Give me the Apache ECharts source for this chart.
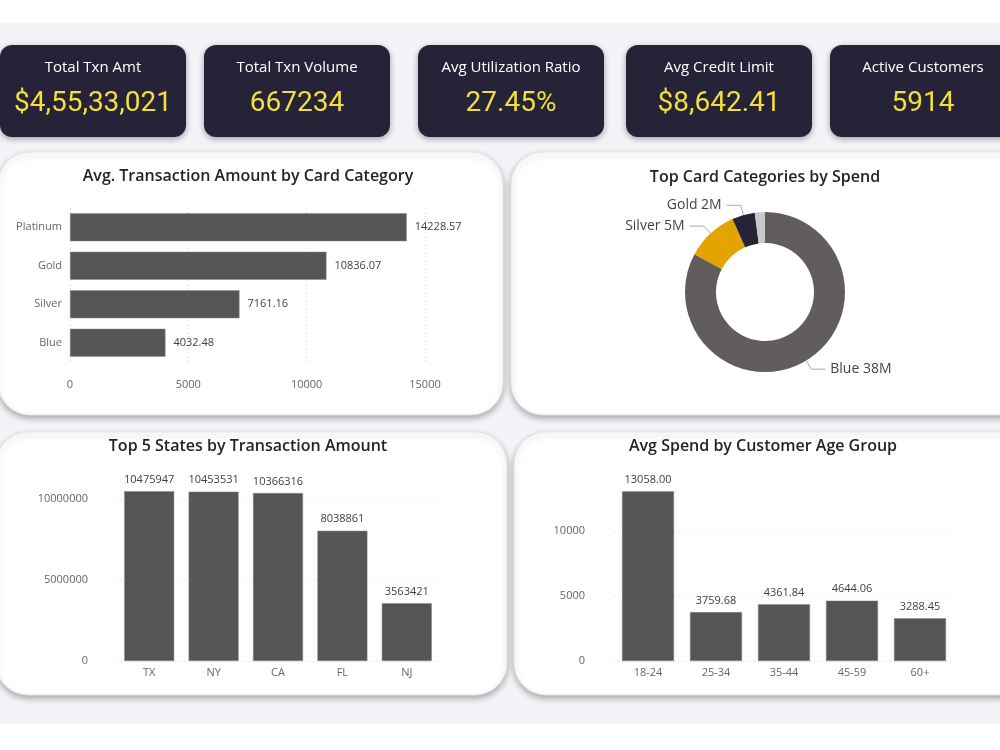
<!DOCTYPE html>
<html>
<head>
<meta charset="UTF-8">
<title>Credit Card Dashboard</title>
<script src="https://cdn.jsdelivr.net/npm/echarts@6/dist/echarts.min.js"></script>
<style>
    *{ padding:0; margin:0; }
    #main{ width:1000px; height:750px; }
</style>
</head>
<body>
<div id="main"></div>
<script>
// KPI cards
var kpiTitles = ['Total Txn Amt', 'Total Txn Volume', 'Avg Utilization Ratio', 'Avg Credit Limit', 'Active Customers'];
var kpiValues = ['$4,55,33,021', '667234', '27.45%', '$8,642.41', '5914'];

// avg transaction amount by card category
var cardCats = ['Platinum', 'Gold', 'Silver', 'Blue'];
var cardAvg = [14228.57, 10836.07, 7161.16, 4032.48];

// spend share by card category (donut)
var spendCats = ['Blue', 'Silver', 'Gold', 'Platinum'];
var spendVals = [37700000, 4800000, 2100000, 930000];
var spendColors = ['#605d5c', '#e3a400', '#262338', '#c8c8c8'];

// top 5 states
var states = ['TX', 'NY', 'CA', 'FL', 'NJ'];
var stateAmt = [10475947, 10453531, 10366316, 8038861, 3563421];

// age groups
var ageGroups = ['18-24', '25-34', '35-44', '45-59', '60+'];
var ageSpend = [13058.00, 3759.68, 4361.84, 4644.06, 3288.45];

var FONT = '"Open Sans", "Noto Sans", sans-serif';
var barColor = '#555555';
var plain = function (v) { return String(v); };
var axisLbl = { color: '#666', fontSize: 11, fontFamily: FONT };
var valLbl = { color: '#404040', fontSize: 11, fontFamily: FONT };
var dotted = { show: true, lineStyle: { color: '#d4d4d4', type: [1, 3], width: 1 } };

function txt(x, y, s, size, color, weight, family, z) {
    return {
        type: 'text', z: z || 5,
        style: {
            x: x, y: y, text: s,
            fontSize: size, fontWeight: weight || 'normal', fontFamily: family || FONT,
            fill: color,
            align: 'center', verticalAlign: 'middle',
            textAlign: 'center', textVerticalAlign: 'middle'
        }
    };
}

var elements = [];
// page background
elements.push({ type: 'rect', z: -3, shape: { x: 0, y: 23, width: 1000, height: 701 }, style: { fill: '#f3f3f8' } });

// kpi cards
var cardX = [0, 204, 418, 626, 830];
for (var i = 0; i < cardX.length; i++) {
    elements.push({
        type: 'rect', z: -2,
        shape: { x: cardX[i], y: 45, width: 186, height: 92, r: 12 },
        style: { fill: '#262338', shadowBlur: 6, shadowOffsetY: 2, shadowColor: 'rgba(0,0,0,0.35)' }
    });
    elements.push(txt(cardX[i] + 93, 68, kpiTitles[i], 15, '#ffffff', 'normal', FONT, 5));
    elements.push(txt(cardX[i] + 93, 104, kpiValues[i], 28, '#f2df3a', 'normal', 'Roboto, sans-serif', 5));
}

// white panels
var panels = [
    [-2, 152, 505, 263],
    [511, 152, 520, 263],
    [-4, 432, 511, 263],
    [514, 432, 520, 263]
];
panels.forEach(function (p) {
    elements.push({
        type: 'rect', z: -2,
        shape: { x: p[0], y: p[1], width: p[2], height: p[3], r: 32 },
        style: { fill: '#ffffff', stroke: '#e6e6e6', lineWidth: 1, shadowBlur: 6, shadowOffsetY: 3, shadowColor: 'rgba(0,0,0,0.3)' }
    });
});

// panel titles
elements.push(txt(248, 176, 'Avg. Transaction Amount by Card Category', 16, '#252423', 600));
elements.push(txt(765, 177, 'Top Card Categories by Spend', 16, '#252423', 600));
elements.push(txt(248, 446, 'Top 5 States by Transaction Amount', 16, '#252423', 600));
elements.push(txt(763, 446, 'Avg Spend by Customer Age Group', 16, '#252423', 600));

var option = {
    animation: false,
    backgroundColor: '#ffffff',
    graphic: { elements: elements },
    grid: [
        { left: 70, top: 208, width: 355, height: 154 },
        { left: 117, top: 466.6, width: 322, height: 194.4 },
        { left: 614, top: 466, width: 340, height: 195 }
    ],
    xAxis: [
        {
            gridIndex: 0, type: 'value', min: 0, max: 15000, interval: 5000, z: 3,
            axisLine: { show: false }, axisTick: { show: false },
            axisLabel: Object.assign({ margin: 17, formatter: plain }, axisLbl),
            splitLine: dotted
        },
        {
            gridIndex: 1, type: 'category', data: states, z: 3,
            axisLine: { show: false }, axisTick: { show: false },
            axisLabel: Object.assign({ margin: 6 }, axisLbl)
        },
        {
            gridIndex: 2, type: 'category', data: ageGroups, z: 3,
            axisLine: { show: false }, axisTick: { show: false },
            axisLabel: Object.assign({ margin: 6 }, axisLbl)
        }
    ],
    yAxis: [
        {
            gridIndex: 0, type: 'category', data: cardCats, inverse: true, z: 3,
            axisLine: { show: false }, axisTick: { show: false },
            axisLabel: Object.assign({ margin: 8 }, axisLbl)
        },
        {
            gridIndex: 1, type: 'value', min: 0, max: 12000000, interval: 5000000, z: 1,
            axisLine: { show: false }, axisTick: { show: false },
            axisLabel: Object.assign({ margin: 29, showMaxLabel: false, formatter: plain }, axisLbl),
            splitLine: Object.assign({ showMaxLine: false }, dotted)
        },
        {
            gridIndex: 2, type: 'value', min: 0, max: 15000, interval: 5000, z: 1,
            axisLine: { show: false }, axisTick: { show: false },
            axisLabel: Object.assign({ margin: 29, showMaxLabel: false, formatter: plain }, axisLbl),
            splitLine: Object.assign({ showMaxLine: false }, dotted)
        }
    ],
    series: [
        {
            type: 'bar', xAxisIndex: 0, yAxisIndex: 0, data: cardAvg, barWidth: 28, z: 4,
            itemStyle: { color: barColor, borderColor: '#8a8a8a', borderWidth: 0.5 },
            label: Object.assign({ show: true, position: 'right', distance: 8 }, valLbl)
        },
        {
            type: 'bar', xAxisIndex: 1, yAxisIndex: 1, data: stateAmt, barWidth: 50, z: 4,
            itemStyle: { color: barColor, borderColor: '#8a8a8a', borderWidth: 0.5 },
            label: Object.assign({ show: true, position: 'top', distance: 6 }, valLbl)
        },
        {
            type: 'bar', xAxisIndex: 2, yAxisIndex: 2, data: ageSpend, barWidth: 52, z: 4,
            itemStyle: { color: barColor, borderColor: '#8a8a8a', borderWidth: 0.5 },
            label: Object.assign({
                show: true, position: 'top', distance: 6,
                formatter: function (p) { return p.value.toFixed(2); }
            }, valLbl)
        },
        {
            type: 'pie', center: [765, 292], radius: [49, 80], z: 4,
            startAngle: 90, clockwise: true,
            data: spendCats.map(function (c, i) {
                var d = { name: c, value: spendVals[i], itemStyle: { color: spendColors[i] } };
                if (c === 'Platinum') {
                    d.label = { show: false };
                    d.labelLine = { show: false };
                }
                return d;
            }),
            label: {
                show: true, color: '#444', fontSize: 14, fontFamily: FONT,
                formatter: function (p) { return p.name + ' ' + Math.round(p.value / 1e6) + 'M'; }
            },
            labelLine: { show: true, length: 10, length2: 14, lineStyle: { color: '#aaa', width: 1 } }
        }
    ]
};

var myChart = echarts.init(document.getElementById('main'));
myChart.setOption(option);
</script>
</body>
</html>
